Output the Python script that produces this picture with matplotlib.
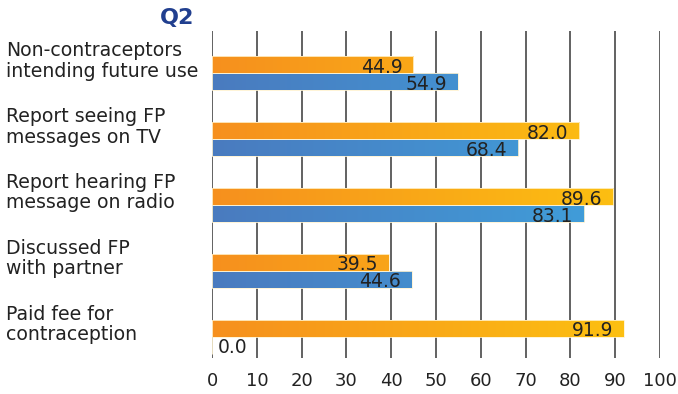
import matplotlib.pyplot as plt
import numpy as np
from matplotlib.colors import LinearSegmentedColormap

categories = ["Non-contraceptors\nintending future use",
              "Report seeing FP\nmessages on TV",
              "Report hearing FP\nmessage on radio",
              "Discussed FP\nwith partner",
              "Paid fee for\ncontraception"]
orange_vals = [44.9, 82.0, 89.6, 39.5, 91.9]
blue_vals = [54.9, 68.4, 83.1, 44.6, 0.0]
ticks = list(range(0, 101, 10))

plt.rcParams['font.family'] = ['DejaVu Sans']

orange_cm = LinearSegmentedColormap.from_list("org", ["#f6901e", "#fdc410"])
blue_cm = LinearSegmentedColormap.from_list("blu", ["#4a7bbf", "#3ea3de"])

fig = plt.figure(figsize=(6.78, 3.94), dpi=100)
ax = fig.add_axes([0.3127, 0.0914, 0.6608, 0.8299])
ax.set_xlim(0, 100)
ax.set_ylim(4.32, -0.645)

h = 0.258
grad = np.linspace(0, 1, 256).reshape(1, -1)

def gradient_bar(y, val, cmap):
    bar = ax.barh(y, val, height=h, color="none", edgecolor="#fff3d0", lw=0.6, zorder=3)[0]
    im = ax.imshow(grad, cmap=cmap, extent=[0, 100, y + h / 2, y - h / 2],
                   aspect="auto", zorder=2, interpolation="bilinear")
    im.set_clip_path(bar)

for i in range(len(categories)):
    yo = i - h / 2
    yb = i + h / 2
    gradient_bar(yo, orange_vals[i], orange_cm)
    gradient_bar(yb, blue_vals[i], blue_cm)
    for y, v in [(yo, orange_vals[i]), (yb, blue_vals[i])]:
        if v > 0:
            ax.text(v - 2.4, y + 0.035, f"{v:.1f}", ha="right", va="center",
                    fontsize=13.5, color="#222222", zorder=5)
        else:
            ax.text(1.3, y + 0.035, f"{v:.1f}", ha="left", va="center",
                    fontsize=13.5, color="#222222", zorder=5)
    ax.text(-0.459, i - 0.19, categories[i], transform=ax.get_yaxis_transform(),
            ha="left", va="center", fontsize=13.6, color="#222222", linespacing=1.1)

for t in ticks:
    ax.axvline(t, color="#555555", lw=1.3, zorder=1)

ax.set_xticks(ticks)
ax.set_yticks([])
ax.tick_params(axis="x", length=0, labelsize=13, labelcolor="#222222", pad=10)
for s in ax.spines.values():
    s.set_visible(False)

fig.text(0.236, 0.955, "Q2", fontsize=16, fontweight="bold", color="#213f8f",
         ha="left", va="center")

fig.savefig("out.png", dpi=100)
